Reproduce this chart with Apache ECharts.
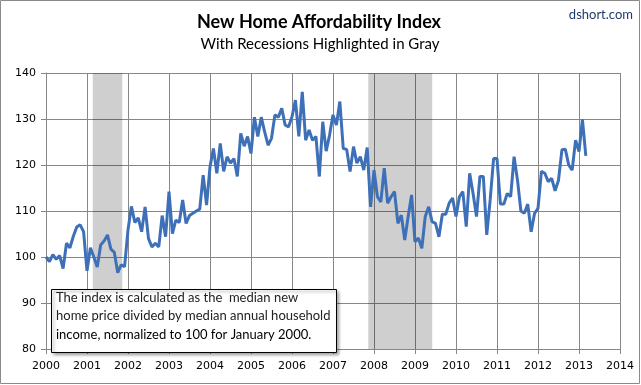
<!DOCTYPE html>
<html><head><meta charset="utf-8">
<script src="https://cdn.jsdelivr.net/npm/echarts@6/dist/echarts.min.js"></script>
<style>html,body{margin:0;padding:0;background:#fff}#c{width:641px;height:385px}</style>
</head><body><div id="c"></div>
<script>
// Monthly index, Jan 2000 .. Mar 2013
var startYear = 2000;
var values = [
 100,99,100.5,99.5,100.3,97.5,103,102,104.5,106.5,107,105.5,
 97,102,100,97.8,102.6,103.5,104.8,101.7,101,96.6,98.3,97.9,
 105.9,111,107.5,108.5,105.5,110.9,104,102.2,103,102.2,109,104.4,
 114.2,105.1,108,107.5,112.4,107.3,109,109.5,110,110.4,117.8,111.3,
 119.6,123.6,118.2,124.7,118.6,121.8,120.4,121.4,117.5,126.9,124.1,126.2,
 122.5,130.4,126.2,130.4,127.2,124.3,125.8,130.9,130.4,132.3,128.7,128.3,
 130.5,134.1,126.2,135.9,125.4,127.6,125.4,126.2,117.5,129.4,123,126.5,
 130.9,128.7,133.8,123.6,123.4,118.6,124,120.4,121.8,118.9,123.8,110.9,
 118.9,113.1,112,119.3,111.7,113.1,114.2,107.3,109.1,103.7,108.8,113.5,
 103.3,104.1,101.9,108.8,110.9,107.7,107.3,104.4,109.3,109.3,111.7,112.8,
 108.8,113.1,114.2,106.6,118.2,113.8,108.8,117.5,117.5,104.8,112.4,121.4,
 121.4,111.5,111.5,113.8,113.1,121.8,116.7,110,109.5,111.5,105.5,109.5,
 110.6,118.6,118.2,116.4,117.1,114.4,116.7,123.3,123.4,120,118.9,125.4,
 122.9,129.9,122
];
var recessions = [[2001.14, 2001.86], [2007.86, 2009.42]];
var yTicks = [80, 90, 100, 110, 120, 130, 140];
var xYears = [2000, 2014];
var titleText = 'New Home Affordability Index';
var subtitleText = 'With Recessions Highlighted in Gray';
var noteLines = ['The index is calculated as the  median new',
                 'home price divided by median annual household',
                 'income, normalized to 100 for January 2000.'];

var data = values.map(function (v, i) { return [startYear + i / 12, v]; });
var gridColor = '#878787';
var chart = echarts.init(document.getElementById('c'), null, {renderer: 'canvas'});
chart.setOption({
  animation: false,
  backgroundColor: '#fff',
  grid: {left: 46, right: 21, top: 73, bottom: 36},
  xAxis: {
    type: 'value', min: xYears[0], max: xYears[1], interval: 1,
    axisLine: {show: true, lineStyle: {color: gridColor}},
    axisTick: {show: true, length: 5, lineStyle: {color: gridColor}},
    splitLine: {show: true, lineStyle: {color: gridColor, width: 1}},
    axisLabel: {color: '#000', fontFamily: 'DejaVu Sans', fontSize: 11, margin: 12,
      formatter: function (v) { return String(Math.round(v)); }}
  },
  yAxis: {
    type: 'value', min: yTicks[0], max: yTicks[yTicks.length - 1], interval: 10,
    axisLine: {show: true, lineStyle: {color: gridColor}},
    axisTick: {show: true, length: 5, lineStyle: {color: gridColor}},
    splitLine: {show: true, lineStyle: {color: gridColor, width: 1}},
    axisLabel: {color: '#000', fontFamily: 'DejaVu Sans', fontSize: 11, margin: 10}
  },
  series: [{
    type: 'line', data: data, showSymbol: false, smooth: false,
    lineStyle: {color: '#3e70b8', width: 3},
    itemStyle: {color: '#3e70b8'},
    markArea: {
      silent: true,
      itemStyle: {color: 'rgba(0,0,0,0.19)'},
      data: recessions.map(function (r) { return [{xAxis: r[0]}, {xAxis: r[1]}]; })
    }
  }],
  graphic: [
    {type: 'rect', shape: {x: 0.5, y: 0.5, width: 639, height: 383},
     style: {fill: 'none', stroke: '#8a8a8a', lineWidth: 1}, z: 100},
    {type: 'text', style: {text: titleText, x: 319, y: 22, textAlign: 'center', textVerticalAlign: 'middle',
      font: 'bold 18px Lato', fill: '#000'}},
    {type: 'text', style: {text: subtitleText, x: 320, y: 44, textAlign: 'center', textVerticalAlign: 'middle',
      font: '15px Lato', fill: '#000'}},
    {type: 'text', style: {text: 'dshort.com', x: 633, y: 15, textAlign: 'right', textVerticalAlign: 'middle',
      font: '13px Lato', fill: '#1f3a6a'}},
    {type: 'rect', shape: {x: 51.5, y: 289.5, width: 285, height: 63},
     style: {fill: '#fff', stroke: '#000', lineWidth: 1, shadowBlur: 3, shadowOffsetX: 2, shadowOffsetY: 2, shadowColor: 'rgba(0,0,0,0.35)'}, z: 50},
    {type: 'text', z: 51, style: {text: noteLines[0], x: 56, y: 298, textVerticalAlign: 'middle', font: '13px Lato', fill: '#222'}},
    {type: 'text', z: 51, style: {text: noteLines[1], x: 56, y: 316, textVerticalAlign: 'middle', font: '13px Lato', fill: '#222'}},
    {type: 'text', z: 51, style: {text: noteLines[2], x: 56, y: 335, textVerticalAlign: 'middle', font: '13px Lato', fill: '#000'}}
  ]
});
</script></body></html>
